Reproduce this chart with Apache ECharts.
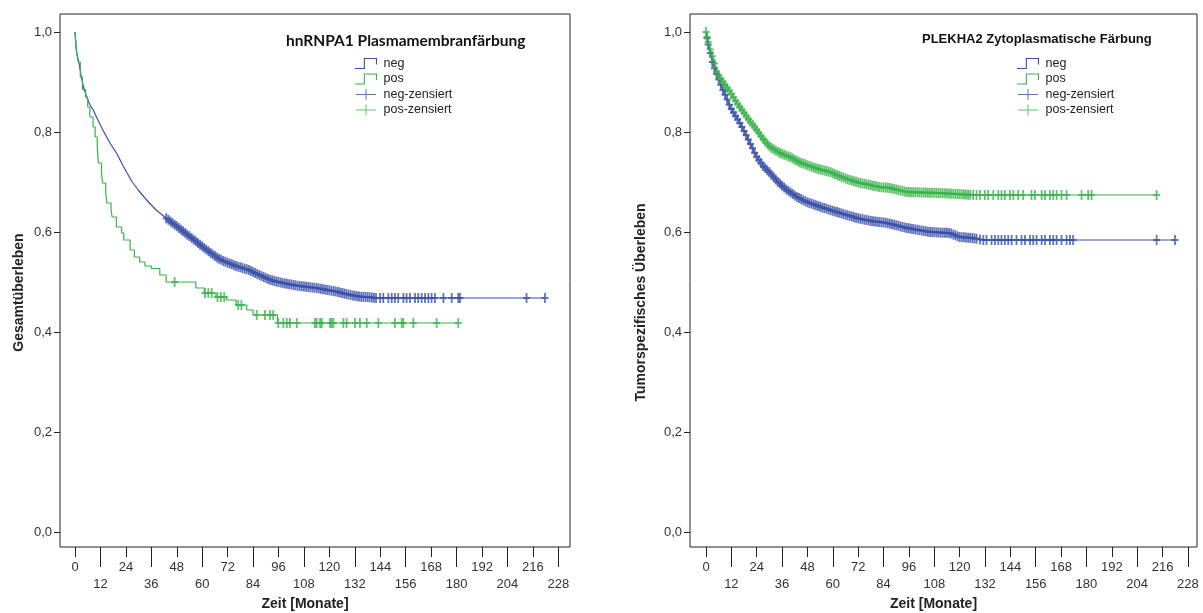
<!DOCTYPE html>
<html>
<head>
<meta charset="utf-8">
<script src="https://cdn.jsdelivr.net/npm/echarts@6/dist/echarts.min.js"></script>
<style>html,body{margin:0;padding:0;background:#fff}#c{width:1203px;height:613px}</style>
</head>
<body>
<div id="c"></div>
<script>
// ---------- Data ----------
const xTicksEven = [0, 24, 48, 72, 96, 120, 144, 168, 192, 216];
const xTicksOdd = [12, 36, 60, 84, 108, 132, 156, 180, 204, 228];
const yTicks = [0, 0.2, 0.4, 0.6, 0.8, 1.0];
const legendNames = ['neg', 'pos', 'neg-zensiert', 'pos-zensiert'];
const titleLeft = 'hnRNPA1 Plasmamembranfärbung';
const titleRight = 'PLEKHA2 Zytoplasmatische Färbung';

// Left chart: hnRNPA1 — Gesamtüberleben
const leftNegT = [0,0.5,1,2,3,4,5.5,7,8.6,11,13.4,16.5,19.7,22,24.4,27,30,33.8,38,43.2,46,49,52,55,58,61,64,67,70,73,76,79,82,85,88,91,94,98,102,106,110,114,118,122,126,130,134,138,142,221.7];
const leftNegS = [1,0.97,0.955,0.935,0.91,0.89,0.87,0.855,0.844,0.822,0.802,0.778,0.757,0.738,0.719,0.7,0.683,0.664,0.645,0.627,0.618,0.608,0.598,0.588,0.578,0.568,0.558,0.549,0.542,0.537,0.532,0.528,0.524,0.518,0.512,0.506,0.502,0.498,0.495,0.492,0.49,0.488,0.485,0.482,0.478,0.474,0.471,0.47,0.468,0.468];
const leftPosT = [0,0.7,1.5,2.5,3.5,5,6,7,8.5,9.5,10.5,11,12.5,13,14.5,15,17,17.5,19.5,22,23,26,28,30.5,33,36,40,43,57,61,66.5,71.5,76,81,84,95.5,180.8];
const leftPosS = [1,0.96,0.94,0.91,0.885,0.87,0.85,0.83,0.81,0.79,0.77,0.738,0.718,0.698,0.678,0.658,0.645,0.63,0.61,0.598,0.584,0.564,0.55,0.54,0.532,0.527,0.514,0.5,0.488,0.478,0.47,0.464,0.454,0.444,0.434,0.418,0.418];
const leftNegCens = [43,44,45,46,47,48,49,50,51,52,53,54,55,56,57,58,59,60,61,62,63,64,65,66,67,68,69,70,71,72,73,74,75,76,77,78,79,80,81,82,83,84,85,86,87,88,89,90,91,92,93,94,95,96,97,98,99,100,101,102,103,104,105,106,107,108,109,110,111,112,113,114,115,116,117,118,119,120,121,122,123,124,125,126,127,128,129,130,131,132,133,134,135,136,137,138,139,140,141,142,143.9,145.4,147.8,149.4,150.9,152.5,154.9,156.4,158,160.4,161.9,163.5,165.1,166.7,168.2,169.8,173.8,177.7,180.8,181.6,213,221.7];
const leftPosCens = [47,61.3,62.9,64.5,67.2,68.8,70.4,77,78.5,85.7,89.6,92,93.5,95.9,98.3,99.9,101.4,104.6,113.2,114,115.6,116.4,120.3,121.1,121.9,126.6,128.1,132.1,134.4,137.6,143.1,150.9,154.1,154.9,159.6,170.6,180.8];

// Right chart: PLEKHA2 — Tumorspezifisches Überleben
const rightNegT = [0,1,2,3,4.3,6,8,10,11.4,14,16,18.5,20.8,24,27,30.3,34,38.3,43,47.8,53,58.7,65,71.4,78,85.6,95,106,115.4,120,126,131,221.9];
const rightNegS = [1,0.975,0.958,0.94,0.924,0.905,0.884,0.865,0.85,0.832,0.818,0.798,0.778,0.75,0.732,0.718,0.7,0.684,0.67,0.66,0.652,0.644,0.636,0.628,0.622,0.618,0.608,0.6,0.598,0.59,0.588,0.584,0.584];
const rightPosT = [0,1,2,3.5,5.2,8,11.4,14,16,20,24,27,30.3,35,39.7,44,47.8,53,58.7,63,68,73,77.6,82,87,95,110,126.3,213.2];
const rightPosS = [1,0.98,0.965,0.945,0.918,0.9,0.88,0.862,0.85,0.826,0.804,0.786,0.77,0.758,0.75,0.74,0.734,0.726,0.72,0.712,0.704,0.698,0.694,0.69,0.688,0.68,0.678,0.674,0.674];
const rightNegCens = [0.5,1,2,3,4,5,6,7,8,9,10,11,12,13,14,15,16,17,18,19,20,21,22,23,24,25,26,27,28,29,30,31,32,33,34,35,36,37,38,39,40,41,42,43,44,45,46,47,48,49,50,51,52,53,54,55,56,57,58,59,60,61,62,63,64,65,66,67,68,69,70,71,72,73,74,75,76,77,78,79,80,81,82,83,84,85,86,87,88,89,90,91,92,93,94,95,96,97,98,99,100,101,102,103,104,105,106,107,108,109,110,111,112,113,114,115,116,117,118,119,120,121,122,123,124,125,126,127,128,129.6,131.2,132.7,135.1,136.7,138.3,139.8,141.4,143,144.6,146.9,149.3,150.9,153.3,154.8,156.4,158.8,160.4,162.7,164.3,165.9,168.2,170.6,172.2,173.7,213.2,221.9];
const rightPosCens = [0,0.5,1,2,3,4,5,6,7,8,9,10,11,12,13,14,15,16,17,18,19,20,21,22,23,24,25,26,27,28,29,30,31,32,33,34,35,36,37,38,39,40,41,42,43,44,45,46,47,48,49,50,51,52,53,54,55,56,57,58,59,60,61,62,63,64,65,66,67,68,69,70,71,72,73,74,75,76,77,78,79,80,81,82,83,84,85,86,87,88,89,90,91,92,93,94,95,96,97,98,99,100,101,102,103,104,105,106,107,108,109,110,111,112,113,114,115,116,117,118,119,120,121,122,123,124,125,126.4,128,129.6,131.9,133.5,135.9,138.3,139.8,141.4,143.8,145.4,147.7,150.1,154,155.6,158.8,160.4,162.7,164.3,165.9,168.2,170.6,177.7,180.8,182.4,213.2];

// ---------- Helpers ----------
const BLUE = '#3a50a8';
const GREEN = '#38b34a';
const FONT = 'Liberation Sans';
function pairs(ts, ss) { return ts.map((t, i) => [t, ss[i]]); }
function survAt(ts, ss, t) { let v = ss[0]; for (let i = 0; i < ts.length; i++) { if (ts[i] <= t) v = ss[i]; else break; } return v; }
function interpAt(ts, ss, t) {
  for (let i = 1; i < ts.length; i++) {
    if (ts[i] >= t) { const f = (t - ts[i - 1]) / (ts[i] - ts[i - 1] || 1); return ss[i - 1] + f * (ss[i] - ss[i - 1]); }
  }
  return ss[ss.length - 1];
}
// censor marks sit on the drawn curve (step curve → step value; smooth curve → on the line)
function cens(times, ts, ss, stepped) { return times.map(t => [t, stepped ? survAt(ts, ss, t) : interpAt(ts, ss, t)]); }
const stepIcon = 'path://M0,9 L8,9 L8,0 L20,0 L20,6 L19,6 L19,1 L9,1 L9,10 L0,10 Z';
const plusIcon = 'path://M0,5 L20,5 L20,6 L0,6 Z M9.5,0 L10.5,0 L10.5,11 L9.5,11 Z';
const censSymbol = 'path://M0,4 L7,4 L7,6 L0,6 Z M2.6,0 L4.4,0 L4.4,10 L2.6,10 Z';
const comma = v => v.toFixed(1).replace('.', ',');

function xAxes(gridIndex, min, max) {
  const base = {
    type: 'value', gridIndex, min, max, position: 'bottom',
    axisLine: { show: false, onZero: false }, splitLine: { show: false },
    axisTick: { show: true, inside: false, lineStyle: { color: '#222', width: 1 } },
    axisLabel: { color: '#333', fontFamily: FONT, fontSize: 13 }
  };
  return [
    Object.assign({}, base, {
      axisTick: Object.assign({}, base.axisTick, { length: 10, customValues: xTicksEven }),
      axisLabel: Object.assign({}, base.axisLabel, { margin: 14, customValues: xTicksEven }),
      name: 'Zeit [Monate]', nameLocation: 'middle', nameGap: 50,
      nameTextStyle: { fontFamily: FONT, fontWeight: 'bold', fontSize: 14, color: '#222', padding: [0, 20, 0, 0] }
    }),
    Object.assign({}, base, {
      axisTick: Object.assign({}, base.axisTick, { length: 20, customValues: xTicksOdd }),
      axisLabel: Object.assign({}, base.axisLabel, { margin: 31, customValues: xTicksOdd })
    })
  ];
}
function yAxis(gridIndex, name, gap, pad) {
  return {
    type: 'value', gridIndex, min: -0.03, max: 1.036,
    axisLine: { show: false, onZero: false }, splitLine: { show: false },
    axisTick: { show: true, length: 6, customValues: yTicks, lineStyle: { color: '#222' } },
    axisLabel: { customValues: yTicks, formatter: comma, margin: 8, color: '#333', fontFamily: FONT, fontSize: 13 },
    name, nameLocation: 'middle', nameGap: gap,
    nameTextStyle: { fontFamily: FONT, fontWeight: 'bold', fontSize: 14, color: '#222', padding: pad }
  };
}
function lineSeries(name, xi, yi, data, color, stepped) {
  return { type: 'line', name, xAxisIndex: xi, yAxisIndex: yi, data, step: stepped ? 'end' : false, showSymbol: false,
    lineStyle: { color, width: 1.2 }, itemStyle: { color }, z: 2, silent: true };
}
function censSeries(name, xi, yi, data, color) {
  return { type: 'scatter', name, xAxisIndex: xi, yAxisIndex: yi, data, symbol: censSymbol, symbolSize: [7, 10],
    itemStyle: { color }, z: 3, silent: true };
}
function legend(left) {
  return {
    left, top: 57, orient: 'vertical', itemWidth: 25, itemHeight: 11, itemGap: 2.5, padding: 0,
    selectedMode: false, textStyle: { fontFamily: FONT, fontSize: 12.5, color: '#222' },
    data: [
      { name: 'neg', icon: stepIcon }, { name: 'pos', icon: stepIcon },
      { name: 'neg-zensiert', icon: plusIcon }, { name: 'pos-zensiert', icon: plusIcon }
    ]
  };
}

const chart = echarts.init(document.getElementById('c'), null, { renderer: 'canvas' });
chart.setOption({
  animation: false,
  backgroundColor: '#fff',
  title: [
    { text: titleLeft, left: 286, top: 33, padding: 0, textStyle: { fontFamily: 'Lato', fontWeight: 'bold', fontSize: 15.5, color: '#111' } },
    { text: titleRight, left: 922, top: 33, padding: 0, textStyle: { fontFamily: FONT, fontWeight: 'bold', fontSize: 13, color: '#111' } }
  ],
  legend: [legend(355), legend(1017)],
  grid: [
    { left: 60, right: 1203 - 570, top: 14, bottom: 613 - 547, show: true, borderColor: '#222', borderWidth: 1, backgroundColor: '#fff', outerBoundsMode: 'none', containLabel: false },
    { left: 690, right: 1203 - 1197, top: 14, bottom: 613 - 547, show: true, borderColor: '#222', borderWidth: 1, backgroundColor: '#fff', outerBoundsMode: 'none', containLabel: false }
  ],
  xAxis: xAxes(0, -7.08, 233.5).concat(xAxes(1, -7.57, 232.3)),
  yAxis: [yAxis(0, 'Gesamtüberleben', 34, [0, 24, 0, 0]), yAxis(1, 'Tumorspezifisches Überleben', 42, [0, 44, 0, 0])],
  series: [
    lineSeries('neg', 0, 0, pairs(leftNegT, leftNegS), BLUE, false),
    lineSeries('pos', 0, 0, pairs(leftPosT, leftPosS), GREEN, true),
    censSeries('neg-zensiert', 0, 0, cens(leftNegCens, leftNegT, leftNegS, false), BLUE),
    censSeries('pos-zensiert', 0, 0, cens(leftPosCens, leftPosT, leftPosS, true), GREEN),
    lineSeries('neg', 2, 1, pairs(rightNegT, rightNegS), BLUE, false),
    lineSeries('pos', 2, 1, pairs(rightPosT, rightPosS), GREEN, false),
    censSeries('neg-zensiert', 2, 1, cens(rightNegCens, rightNegT, rightNegS, false), BLUE),
    censSeries('pos-zensiert', 2, 1, cens(rightPosCens, rightPosT, rightPosS, false), GREEN)
  ]
});
</script>
</body>
</html>
